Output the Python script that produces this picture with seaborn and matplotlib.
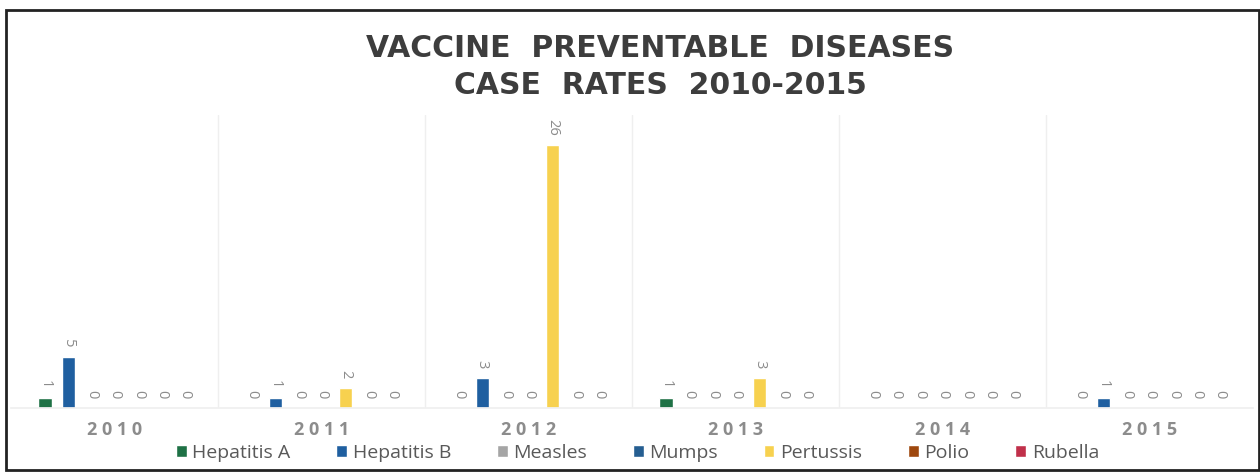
import matplotlib
matplotlib.use("Agg")
import matplotlib.pyplot as plt
from matplotlib.patches import Rectangle
from matplotlib.ticker import FixedLocator
import pandas as pd
import seaborn as sns

years = ["2010", "2011", "2012", "2013", "2014", "2015"]
diseases = ["Hepatitis A", "Hepatitis B", "Measles", "Mumps", "Pertussis", "Polio", "Rubella"]
hepatitis_a = [1, 0, 0, 1, 0, 0]
hepatitis_b = [5, 1, 3, 0, 0, 1]
measles = [0, 0, 0, 0, 0, 0]
mumps = [0, 0, 0, 0, 0, 0]
pertussis = [0, 2, 26, 3, 0, 0]
polio = [0, 0, 0, 0, 0, 0]
rubella = [0, 0, 0, 0, 0, 0]
palette = ["#1e7145", "#1f5fa0", "#a5a5a5", "#255e91", "#f7d14f", "#9e480e", "#c0304a"]

series = [hepatitis_a, hepatitis_b, measles, mumps, pertussis, polio, rubella]
rows = []
for name, vals in zip(diseases, series):
    for yr, v in zip(years, vals):
        rows.append({"Year": yr, "Disease": name, "Cases": v})
df = pd.DataFrame(rows)

sns.set_theme(style="white")
plt.rcParams["font.family"] = ["Open Sans", "DejaVu Sans"]

fig = plt.figure(figsize=(12.6, 4.73), dpi=100)
ax = fig.add_axes([0.0091, 0.1374, 0.9857, 0.6194])

sns.barplot(data=df, x="Year", y="Cases", hue="Disease", hue_order=diseases,
            order=years, palette=palette, width=0.79, gap=0.43,
            saturation=1, ax=ax, legend=True)

# value labels above every bar, zeros included
for cont in ax.containers:
    ax.bar_label(cont, fmt="%d", rotation=-90, padding=7, fontsize=10.5,
                 color="#8c8c8c")

ax.set_ylim(0, 29)
ax.set_xlim(-0.5, len(years) - 0.5)
ax.set_yticks([])
ax.set_xlabel("")
ax.set_ylabel("")
ax.tick_params(axis="x", length=0, pad=9)
ax.set_xticks(range(len(years)))
ax.set_xticklabels([" ".join(y) for y in years], fontsize=13, color="#8c8c8c",
                   fontweight="bold")

# light separators between year groups
ax.xaxis.set_minor_locator(FixedLocator([i + 0.5 for i in range(len(years) - 1)]))
ax.grid(axis="x", which="minor", color="#efefef", linewidth=1)
ax.grid(axis="x", which="major", visible=False)
for side in ["top", "left", "right"]:
    ax.spines[side].set_visible(False)
ax.spines["bottom"].set_color("#f0f0f0")

handles, labels = ax.get_legend_handles_labels()
ax.get_legend().remove()
fig.legend(handles, labels, loc="center", bbox_to_anchor=(0.506, 0.043),
           ncol=7, frameon=False, fontsize=14, handlelength=0.55,
           handleheight=0.55, handletextpad=0.3, columnspacing=2.35,
           labelcolor="#595959")

title_kw = dict(ha="center", va="center", fontsize=21.5, fontweight="bold",
                color="#3d3d3d", family=["DejaVu Sans"])
fig.text(0.524, 0.898, "VACCINE  PREVENTABLE  DISEASES", **title_kw)
fig.text(0.524, 0.820, "CASE  RATES  2010-2015", **title_kw)

fig.patches.append(Rectangle((0.005, 0.006), 0.994, 0.972, transform=fig.transFigure,
                             fill=False, edgecolor="#222222", linewidth=2))

fig.savefig("out.png", dpi=100)
